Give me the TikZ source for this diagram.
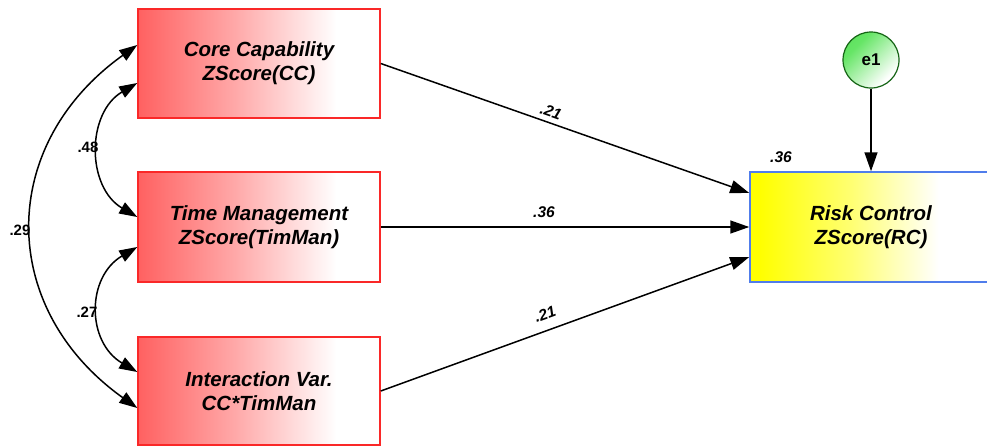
\documentclass[tikz,border=0pt]{standalone}
\usepackage{fontspec}
\setmainfont{Liberation Sans}
\usetikzlibrary{arrows.meta,calc}

% Fill gradients: strong colour on the left, fading to white
\pgfdeclarehorizontalshading{redfade}{100bp}{rgb(0bp)=(1,0.38,0.38); rgb(25bp)=(1,0.38,0.38); rgb(45bp)=(1,0.66,0.66); rgb(66bp)=(1,1,1); rgb(100bp)=(1,1,1)}
\pgfdeclarehorizontalshading{yellowfade}{100bp}{rgb(0bp)=(1,1,0); rgb(27bp)=(1,1,0); rgb(46bp)=(1,1,0.45); rgb(64bp)=(1,1,1); rgb(100bp)=(1,1,1)}
\pgfdeclarehorizontalshading{greenfade}{100bp}{rgb(0bp)=(0.3,0.85,0.3); rgb(32bp)=(0.4,0.9,0.4); rgb(72bp)=(1,1,1); rgb(100bp)=(1,1,1)}

\definecolor{boxred}{RGB}{250,40,40}
\definecolor{boxblue}{RGB}{80,125,235}
\definecolor{circgreen}{RGB}{20,100,20}

\tikzset{
  varbox/.style={rectangle, minimum width=242pt, align=center, line width=1.5pt,
    font=\bfseries\itshape\fontsize{20.5}{24}\selectfont},
  exobox/.style={varbox, draw=boxred, shading=redfade},
  endobox/.style={varbox, draw=boxblue, shading=yellowfade},
  errcirc/.style={circle, minimum size=56pt, inner sep=0pt, draw=circgreen, line width=1.2pt,
    shading=greenfade, shading angle=-45, font=\bfseries\fontsize{17}{20}\selectfont},
  path/.style={line width=1.5pt, -{Triangle[length=19pt,width=13pt]}},
  cov/.style={line width=1.5pt, {Triangle[length=18pt,width=12.5pt]}-{Triangle[length=18pt,width=12.5pt]}},
  est/.style={font=\bfseries\itshape\fontsize{15.5}{17}\selectfont, inner sep=0pt},
  corr/.style={font=\bfseries\fontsize{15}{17}\selectfont, inner sep=0pt}
}

\begin{document}
\begin{tikzpicture}[x=1pt, y=-1pt]
\useasboundingbox (0,0) rectangle (987,447);

% Predictors
\node[exobox, minimum height=109pt] (cc) at (259,63.5) {Core Capability\\ZScore(CC)};
\node[exobox, minimum height=110pt] (tm) at (259,227) {Time Management\\ZScore(TimMan)};
\node[exobox, minimum height=108pt] (iv) at (259,391) {Interaction Var.\\CC*TimMan};

% Outcome and its error term
\node[endobox, minimum height=110pt] (rc) at (871,227) {Risk Control\\ZScore(RC)};
\node[errcirc] (e1) at (871,60) {e1};

% Regression paths
\draw[path] (cc.east) -- ([yshift=34pt]rc.west);
\draw[path] (tm.east) -- (rc.west);
\draw[path] (iv.east) -- ([yshift=-30pt]rc.west);
\draw[path] (e1.south) -- (rc.north);

% Covariances between predictors
\draw[cov] ([yshift=18.5pt]cc.west) .. controls +(-140,100) and +(-140,-100) .. ([yshift=-17pt]iv.west);
\draw[cov] ([yshift=-19.5pt]cc.west) .. controls +(-51,30) and +(-51,-30) .. ([yshift=10pt]tm.west);
\draw[cov] ([yshift=-20pt]tm.west) .. controls +(-51,30) and +(-51,-30) .. ([yshift=19pt]iv.west);

% Estimates
\node[corr] (k48) at (88,147) {.48};
\node[corr] (k29) at (20,230) {.29};
\node[corr] (k27) at (87,312) {.27};
\node[est, rotate=-19.4] (b1) at (551,112) {.21};
\node[est] (b2) at (544,212) {.36};
\node[est, rotate=19.8] (b3) at (545,314) {.21};
\node[est] (r2) at (781,157) {.36};
\end{tikzpicture}
\end{document}
